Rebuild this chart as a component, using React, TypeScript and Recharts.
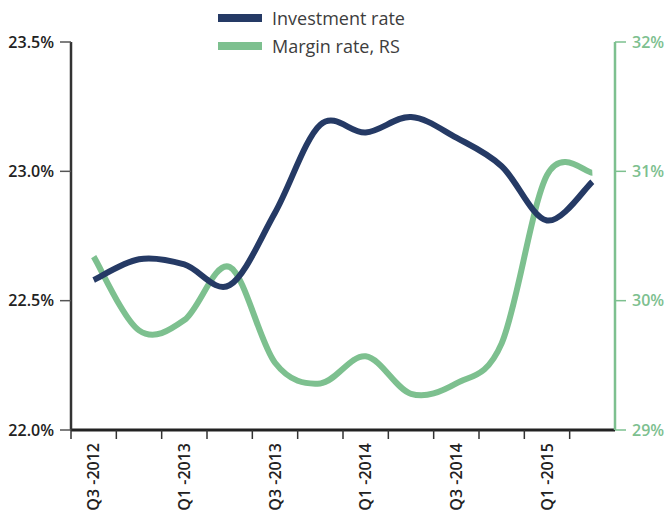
import { Legend, Line, LineChart, XAxis, YAxis } from 'recharts';

const quarters = [
  'Q3 -2012', 'Q4 -2012', 'Q1 -2013', 'Q2 -2013', 'Q3 -2013', 'Q4 -2013',
  'Q1 -2014', 'Q2 -2014', 'Q3 -2014', 'Q4 -2014', 'Q1 -2015', 'Q2 -2015',
];
const investmentRate = [22.58, 22.66, 22.64, 22.56, 22.84, 23.18, 23.15, 23.21, 23.13, 23.02, 22.81, 22.96];
const marginRate = [30.34, 29.77, 29.85, 30.26, 29.52, 29.36, 29.57, 29.28, 29.36, 29.67, 30.97, 30.99];
const leftTicks = [22, 22.5, 23, 23.5];
const rightTicks = [29, 30, 31, 32];

const NAVY = '#253a65';
const GREEN = '#7dc08f';
const FONT = '"Open Sans", sans-serif';

const WIDTH = 666;
const HEIGHT = 511;
const LEFT_W = 71;
const RIGHT_W = 51;
const BAND = (WIDTH - LEFT_W - RIGHT_W) / quarters.length;

const data = quarters.map((q, i) => ({ q, inv: investmentRate[i], margin: marginRate[i] }));

// Catmull-Rom style smoothing, like the spreadsheet "smoothed line"
const smooth = (context: any) => {
  let pts: number[][] = [];
  return {
    areaStart() {},
    areaEnd() {},
    lineStart() {
      pts = [];
    },
    point(x: number, y: number) {
      pts.push([x, y]);
    },
    lineEnd() {
      if (!pts.length) return;
      context.moveTo(pts[0][0], pts[0][1]);
      for (let i = 0; i < pts.length - 1; i++) {
        const p0 = pts[i - 1] || pts[i];
        const p1 = pts[i];
        const p2 = pts[i + 1];
        const p3 = pts[i + 2] || p2;
        context.bezierCurveTo(
          p1[0] + (p2[0] - p0[0]) / 6,
          p1[1] + (p2[1] - p0[1]) / 6,
          p2[0] - (p3[0] - p1[0]) / 6,
          p2[1] - (p3[1] - p1[1]) / 6,
          p2[0],
          p2[1],
        );
      }
    },
  };
};

function QuarterTick(props: any) {
  const { x, y, payload, index } = props;
  const edge = x - BAND / 2;
  const ty = y + 13;
  return (
    <g>
      <line x1={edge} y1={y} x2={edge} y2={y + 9} stroke="#333" strokeWidth={1.5} />
      {index % 2 === 0 && (
        <text
          x={x}
          y={ty}
          dy="0.35em"
          transform={`rotate(-90 ${x} ${ty})`}
          textAnchor="end"
          fill="#222"
          fontSize={16}
          fontWeight={600}
          fontFamily={FONT}
        >
          {payload.value}
        </text>
      )}
    </g>
  );
}

function LegendBox() {
  const rows = [
    { name: 'Investment rate', color: NAVY },
    { name: 'Margin rate, RS', color: GREEN },
  ];
  return (
    <div>
      {rows.map((r) => (
        <div key={r.name} style={{ display: 'flex', alignItems: 'center', height: 28 }}>
          <span style={{ width: 44, height: 8, background: r.color, marginRight: 10 }} />
          <span style={{ fontFamily: FONT, fontSize: 18, color: '#3d3d3d' }}>{r.name}</span>
        </div>
      ))}
    </div>
  );
}

export default function App() {
  return (
    <div style={{ position: 'absolute', left: 0, top: 0, background: '#fff' }}>
      <LineChart width={WIDTH} height={HEIGHT} data={data} margin={{ top: 42, right: 0, bottom: 0, left: 0 }}>
        <XAxis
          dataKey="q"
          scale="band"
          height={HEIGHT - 430}
          interval={0}
          tickSize={0}
          tickMargin={0}
          tickLine={false}
          axisLine={{ stroke: '#222', strokeWidth: 3 }}
          tick={<QuarterTick />}
        />
        <YAxis
          yAxisId="left"
          width={LEFT_W}
          domain={[22, 23.5]}
          ticks={leftTicks}
          tickSize={11}
          tickMargin={6}
          tickFormatter={(v: number) => `${v.toFixed(1)}%`}
          axisLine={{ stroke: '#333', strokeWidth: 2.5 }}
          tickLine={{ stroke: '#555', strokeWidth: 1.5 }}
          tick={{ fill: '#222', fontSize: 16, fontWeight: 600, fontFamily: FONT }}
        />
        <YAxis
          yAxisId="right"
          orientation="right"
          width={RIGHT_W}
          domain={[29, 32]}
          ticks={rightTicks}
          tickSize={11}
          tickMargin={6}
          tickFormatter={(v: number) => `${v}%`}
          axisLine={{ stroke: GREEN, strokeWidth: 2.5 }}
          tickLine={{ stroke: GREEN, strokeWidth: 1.5 }}
          tick={{ fill: GREEN, fontSize: 16, fontWeight: 600, fontFamily: FONT }}
        />
        <Legend
          layout="horizontal"
          verticalAlign="middle"
          align="center"
          wrapperStyle={{ top: 4, left: 218, width: 260, height: 56 }}
          content={<LegendBox />}
        />
        <Line
          yAxisId="right"
          dataKey="margin"
          type={smooth as any}
          stroke={GREEN}
          strokeWidth={6}
          dot={false}
          activeDot={false}
          isAnimationActive={false}
        />
        <Line
          yAxisId="left"
          dataKey="inv"
          type={smooth as any}
          stroke={NAVY}
          strokeWidth={6}
          dot={false}
          activeDot={false}
          isAnimationActive={false}
        />
      </LineChart>
    </div>
  );
}
